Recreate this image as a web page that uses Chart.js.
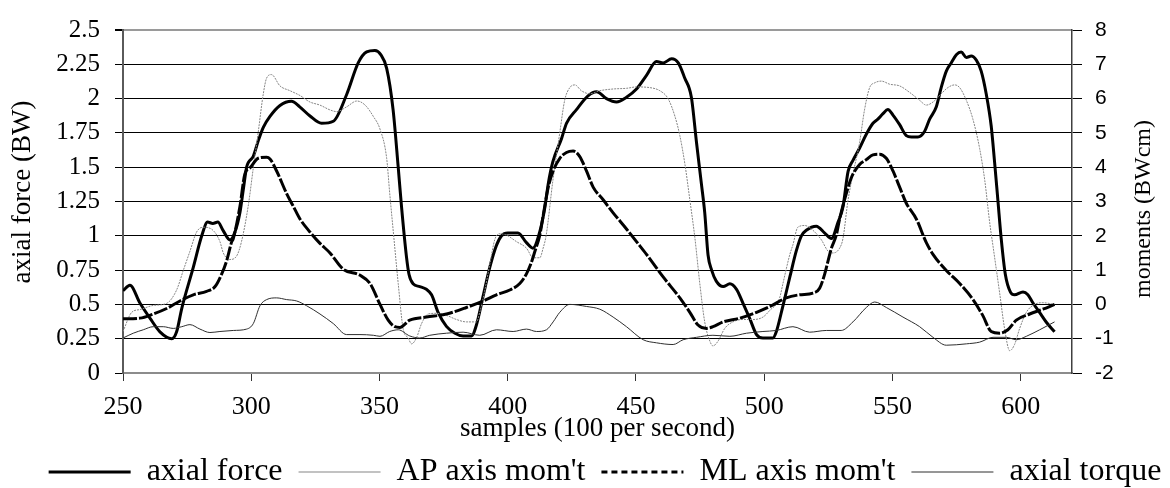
<!DOCTYPE html>
<html>
<head>
<meta charset="utf-8">
<script src="https://cdn.jsdelivr.net/npm/chart.js@4.4.1/dist/chart.umd.min.js"></script>
<style>
html,body{margin:0;padding:0;background:#fff;}
#wrap{width:1170px;height:488px;position:relative;}
</style>
</head>
<body>
<div id="wrap"><canvas id="c"></canvas></div>
<script>
// ---- labels ----
const seriesNames = ["axial force", "AP axis mom't", "ML axis mom't", "axial torque"];
const xTitle = "samples (100 per second)";
const leftTitle = "axial force (BW)";
const rightTitle = "moments (BWcm)";
const xTicks = [250, 300, 350, 400, 450, 500, 550, 600];
const leftTicks = [0, 0.25, 0.5, 0.75, 1, 1.25, 1.5, 1.75, 2, 2.25, 2.5];
const rightTicks = [-2, -1, 0, 1, 2, 3, 4, 5, 6, 7, 8];

// ---- series: [sample, value] ----
// axial force (BW), left axis
const axialForce = [[250,0.60],[252.7,0.64],[256.6,0.51],[260.5,0.40],[264.4,0.30],[269,0.25],[270.9,0.30],[272.9,0.47],[277.4,0.77],[280.7,1.00],[283,1.10],[285,1.09],[287,1.10],[289,1.04],[291.7,0.97],[293.5,1.02],[295.6,1.17],[297,1.35],[298.2,1.50],[300.8,1.58],[302.7,1.69],[304.7,1.79],[307.3,1.87],[311.2,1.95],[315.7,1.98],[318.9,1.94],[322.8,1.875],[327.4,1.82],[332,1.835],[337.2,2.03],[341.7,2.26],[345,2.34],[348.2,2.35],[350.5,2.32],[352.8,2.22],[355.3,1.92],[357.3,1.50],[358.6,1.21],[360.5,0.85],[361.5,0.72],[363.1,0.65],[365.7,0.63],[368.3,0.61],[370.3,0.57],[372.9,0.44],[376.1,0.34],[379.4,0.29],[382.6,0.27],[385.9,0.27],[387.8,0.35],[390.4,0.56],[393,0.77],[395.6,0.93],[397.6,1.00],[400,1.02],[404,1.02],[407.3,0.95],[409.8,0.91],[412.5,1.03],[414.5,1.21],[415.8,1.38],[417.6,1.54],[421,1.71],[422.9,1.82],[426.8,1.92],[431.3,2.02],[434.6,2.05],[438.5,2.00],[442.4,1.975],[446.3,2.01],[450.2,2.07],[454.1,2.17],[458,2.27],[460.6,2.26],[463.9,2.29],[466.5,2.26],[469,2.15],[471.6,2.01],[473.6,1.68],[475.5,1.38],[476.8,1.17],[478.1,0.86],[479.5,0.75],[481.3,0.67],[484,0.63],[486.6,0.65],[489.2,0.61],[491.7,0.51],[494.3,0.40],[497,0.28],[499.5,0.255],[503.4,0.255],[504.7,0.30],[507.3,0.49],[510,0.70],[512.5,0.89],[514.5,1.00],[516.4,1.04],[520.3,1.07],[523.6,1.02],[526.2,0.98],[528.8,1.10],[530.7,1.21],[532.7,1.47],[534.6,1.55],[537.2,1.64],[539.8,1.74],[542.4,1.82],[544.3,1.85],[546.3,1.89],[548.2,1.92],[550.2,1.88],[552.8,1.81],[555.4,1.73],[557.4,1.72],[559.9,1.72],[562.5,1.76],[564.5,1.85],[567.1,1.94],[569,2.08],[571,2.20],[572.9,2.26],[574.9,2.32],[576.8,2.34],[578.8,2.30],[580.7,2.31],[582.7,2.28],[584.6,2.20],[586.6,2.03],[588.5,1.80],[589.8,1.54],[591.1,1.26],[592.4,0.98],[594,0.72],[596,0.59],[597.6,0.57],[600.9,0.59],[602.8,0.57],[604.8,0.51],[607.4,0.44],[610,0.37],[613.2,0.30]];

// AP axis moment (BWcm), right axis
const apMoment = [[250,-0.79],[253.4,-0.23],[256.6,-0.15],[261.8,-0.03],[267,0.03],[270.9,0.42],[273.5,0.99],[276.1,1.55],[278.7,2.11],[281.3,2.25],[284.6,2.19],[287.8,1.83],[289.1,1.50],[291.7,1.31],[294.3,1.41],[296.2,1.83],[298.8,2.86],[300.8,3.98],[302.7,5.01],[304.7,6.14],[306,6.60],[307.9,6.70],[311.2,6.37],[315.1,6.23],[319,6.09],[322.9,5.90],[326.8,5.81],[330.7,5.67],[333.3,5.62],[337.2,5.76],[341.2,5.93],[344.4,5.81],[347.6,5.48],[350.2,5.11],[352.8,4.26],[354,3.23],[355.4,2.11],[357.3,0.61],[359.2,-0.70],[361.2,-0.98],[362.5,-1.15],[364.4,-0.98],[366.4,-0.56],[369,-0.28],[372.2,-0.26],[376.1,-0.32],[380,-0.44],[383.9,-0.51],[387.8,-0.51],[389.1,-0.23],[391.1,0.42],[393,1.17],[395,1.90],[396.9,2.06],[399.5,2.02],[403.4,1.83],[407.3,1.64],[409.9,1.36],[412.5,1.36],[413.8,1.64],[415,2.02],[417.6,3.61],[420.3,5.01],[422.2,5.95],[424.2,6.32],[426.2,6.40],[428.7,6.23],[432,6.14],[435.9,6.23],[441.1,6.28],[446.3,6.30],[450.2,6.34],[455.4,6.32],[459.3,6.23],[462.5,6.00],[465.2,5.48],[467.1,4.92],[469.1,4.08],[471,3.05],[473,1.92],[474.9,0.60],[476.8,-0.51],[478.8,-1.07],[480,-1.21],[482,-1.07],[484.6,-0.70],[487.8,-0.51],[491.7,-0.44],[495.6,-0.44],[499.5,-0.37],[502.1,-0.18],[506,0.19],[507.3,0.61],[510,1.46],[511.2,1.74],[513.1,2.25],[515.8,2.30],[519,2.16],[522.3,1.88],[524.9,1.55],[526.8,1.50],[529.4,1.64],[530.7,1.92],[532.7,3.05],[534.6,3.80],[537.2,4.73],[539.1,5.67],[541.1,6.32],[543.1,6.46],[545.7,6.51],[548.9,6.42],[552.8,6.37],[556.7,6.18],[560.6,5.95],[563.2,5.81],[565.8,5.90],[569,6.14],[571.6,6.32],[574.2,6.40],[576.2,6.32],[578.8,5.95],[581.4,5.39],[584,4.54],[586,3.61],[587.9,2.39],[589.2,1.70],[591.8,0.33],[593.7,-0.70],[595.7,-1.35],[597.6,-1.17],[599.6,-0.70],[602.2,-0.23],[605.4,0.00],[608.6,0.05],[613.2,0.00]];

// ML axis moment (BWcm), right axis
const mlMoment = [[250,-0.42],[256.6,-0.40],[261.8,-0.28],[267,-0.12],[272.2,0.10],[277.4,0.28],[282.6,0.38],[285.9,0.52],[288.5,0.89],[290.4,1.27],[292.4,1.83],[293,1.92],[295.6,2.86],[297.5,3.80],[299.5,3.98],[302.7,4.26],[306,4.29],[307.3,4.24],[309.9,3.89],[313.8,3.23],[316.4,2.86],[319,2.49],[322.9,2.11],[326.8,1.78],[330.7,1.50],[335.8,1.03],[342.4,0.85],[346.3,0.61],[350.2,0.00],[353.4,-0.46],[356,-0.65],[357.9,-0.67],[361.8,-0.46],[368.3,-0.37],[376.1,-0.28],[383.9,-0.09],[390.4,0.10],[395.6,0.28],[400.8,0.42],[404.7,0.61],[407.3,0.89],[409.2,1.22],[410.6,1.55],[412.5,2.02],[413.8,2.58],[415.8,3.42],[417.7,3.89],[420.3,4.26],[422.9,4.43],[425.5,4.47],[428.1,4.31],[430.7,3.89],[433.3,3.42],[437.2,3.05],[441.1,2.67],[446.3,2.20],[450.2,1.83],[454.1,1.46],[460.6,0.80],[467.1,0.19],[471,-0.23],[474.2,-0.60],[477.5,-0.70],[480,-0.65],[484,-0.51],[490.5,-0.40],[497,-0.23],[502.8,-0.04],[508.6,0.19],[513.8,0.28],[519,0.33],[521.6,0.47],[523.6,0.89],[524.9,1.27],[526.2,1.64],[528.1,2.02],[529.4,2.49],[532,3.23],[534,3.70],[537.2,4.08],[539.8,4.22],[542.4,4.36],[545,4.38],[547.6,4.26],[550.2,3.89],[552.8,3.42],[555.4,2.95],[559.3,2.49],[563.2,1.80],[565.8,1.46],[571,0.99],[576.2,0.61],[581.4,0.14],[585.2,-0.32],[588.5,-0.79],[591.8,-0.84],[595,-0.74],[598.3,-0.46],[603.5,-0.28],[608.6,-0.14],[613.2,0.00]];

// axial torque (BWcm), right axis
const axialTorque = [[250,-0.98],[254,-0.84],[257.9,-0.74],[261.8,-0.65],[265.7,-0.65],[269.6,-0.70],[272.9,-0.65],[276.1,-0.59],[280,-0.72],[283.9,-0.82],[287.8,-0.79],[293,-0.76],[298.2,-0.72],[300.8,-0.56],[303.4,-0.04],[306,0.14],[309.9,0.19],[313.8,0.14],[317.7,0.10],[321.6,-0.04],[326.8,-0.28],[332,-0.56],[337.2,-0.88],[342.4,-0.88],[347.6,-0.90],[350.2,-0.93],[354,-0.79],[357.3,-0.74],[361.8,-0.92],[365.7,-0.98],[369.6,-0.90],[376.1,-0.84],[382.6,-0.81],[389.1,-0.90],[395.6,-0.74],[402.1,-0.79],[407.3,-0.72],[411.2,-0.79],[415.1,-0.74],[417.7,-0.51],[420.3,-0.23],[424.2,0.00],[430.7,-0.06],[435.9,-0.14],[441.1,-0.37],[446.3,-0.65],[452.8,-1.03],[458,-1.12],[464.5,-1.17],[468.4,-1.03],[473.6,-0.96],[480,-0.90],[486.6,-0.93],[493.1,-0.84],[499.5,-0.79],[504.7,-0.76],[511.2,-0.65],[517.7,-0.81],[524.2,-0.76],[530,-0.76],[534.6,-0.51],[539.8,-0.09],[543.1,0.07],[547.6,-0.09],[554.1,-0.37],[560.6,-0.65],[565.8,-0.96],[571,-1.19],[578.8,-1.15],[584,-1.10],[589.2,-0.96],[594.4,-0.96],[598.3,-1.03],[602.2,-0.93],[607.4,-0.74],[613.2,-0.51]];

const toPts = arr => arr.map(p => ({x: p[0], y: p[1]}));
const SERIF = '"Liberation Serif", "Times New Roman", serif';
const SANS = '"Liberation Sans", Arial, sans-serif';

// rotated y-axis titles (both read bottom-to-top, as in the reference)
const yAxisTitles = {
  id: 'yAxisTitles',
  afterDraw(chart) {
    const ctx = chart.ctx, a = chart.chartArea;
    ctx.save();
    ctx.fillStyle = '#000';
    ctx.textAlign = 'center';
    ctx.textBaseline = 'middle';
    ctx.font = '27px ' + SERIF;
    ctx.translate(a.left - 100, a.top + 162);
    ctx.rotate(-Math.PI / 2);
    ctx.fillText(leftTitle, 0, 0);
    ctx.restore();
    ctx.save();
    ctx.fillStyle = '#000';
    ctx.textAlign = 'center';
    ctx.textBaseline = 'middle';
    ctx.font = '24px ' + SERIF;
    ctx.translate(a.right + 72, a.top + 179);
    ctx.rotate(-Math.PI / 2);
    ctx.fillText(rightTitle, 0, 0);
    ctx.restore();
  }
};

// nudge the bottom legend row slightly right, like the reference
const legendShift = {
  id: 'legendShift',
  afterLayout(chart) {
    const lg = chart.legend;
    if (lg) { lg.left += 20; lg.right += 20; }
  }
};

const common = {pointRadius: 0, pointHoverRadius: 0, pointStyle: 'line', fill: false, cubicInterpolationMode: 'monotone'};

new Chart(document.getElementById('c'), {
  type: 'line',
  data: {
    datasets: [
      Object.assign({label: seriesNames[0], data: toPts(axialForce), yAxisID: 'y', borderColor: '#000', borderWidth: 3, order: 3}, common),
      Object.assign({label: seriesNames[1], data: toPts(apMoment), yAxisID: 'y2', borderColor: '#858585', borderWidth: 1, borderDash: [2, 1], order: 2}, common),
      Object.assign({label: seriesNames[2], data: toPts(mlMoment), yAxisID: 'y2', borderColor: '#000', borderWidth: 3, borderDash: [14, 2], order: 1}, common),
      Object.assign({label: seriesNames[3], data: toPts(axialTorque), yAxisID: 'y2', borderColor: '#2e2e2e', borderWidth: 1, order: 0}, common)
    ]
  },
  options: {
    responsive: true,
    maintainAspectRatio: false,
    animation: false,
    events: [],
    layout: {padding: {top: 17, left: 0, right: 0, bottom: -10}},
    scales: {
      x: {
        type: 'linear', min: 250, max: 620,
        afterBuildTicks: s => { s.ticks = xTicks.map(v => ({value: v})); },
        afterFit: s => { s.height = 67; },
        ticks: {font: {family: SERIF, size: 26}, color: '#000', padding: 11, maxRotation: 0, autoSkip: false},
        grid: {drawOnChartArea: false, tickLength: 8, color: '#333', lineWidth: 1},
        border: {color: '#8c8c8c', width: 2},
        title: {display: true, text: xTitle, color: '#000', font: {family: SERIF, size: 27, lineHeight: 0.8}, padding: 0}
      },
      y: {
        position: 'left', min: 0, max: 2.5,
        afterBuildTicks: s => { s.ticks = leftTicks.map(v => ({value: v})); },
        afterFit: s => { s.width = 123; },
        ticks: {callback: v => String(v), font: {family: SERIF, size: 25}, color: '#000', padding: 15},
        grid: {
          color: c => (c.tick && c.tick.value === 2.5) ? '#9a9a9a' : ((c.tick && c.tick.value === 0) ? 'rgba(0,0,0,0)' : '#000'),
          lineWidth: c => (c.tick && c.tick.value === 2.5) ? 2 : 1,
          tickColor: '#000', tickLength: 8
        },
        border: {color: '#5a5a5a', width: 2}
      },
      y2: {
        position: 'right', min: -2, max: 8,
        afterBuildTicks: s => { s.ticks = rightTicks.map(v => ({value: v})); },
        afterFit: s => { s.width = 98; },
        ticks: {font: {family: SANS, size: 21}, color: '#000', padding: 13},
        grid: {drawOnChartArea: false, tickLength: 10, color: '#000', lineWidth: 1},
        border: {color: '#404040', width: 1.5}
      }
    },
    plugins: {
      tooltip: {enabled: false},
      legend: {
        position: 'bottom',
        labels: {
          usePointStyle: true, pointStyleWidth: 82,
          font: {family: SERIF, size: 32}, color: '#000', padding: 16,
          sort: (a, b) => a.datasetIndex - b.datasetIndex,
          generateLabels: chart => {
            const items = Chart.defaults.plugins.legend.labels.generateLabels(chart);
            items.forEach(it => { if (it.datasetIndex === 2) it.lineDash = [6, 4]; });
            return items;
          }
        }
      }
    }
  },
  plugins: [yAxisTitles, legendShift]
});
</script>
</body>
</html>
